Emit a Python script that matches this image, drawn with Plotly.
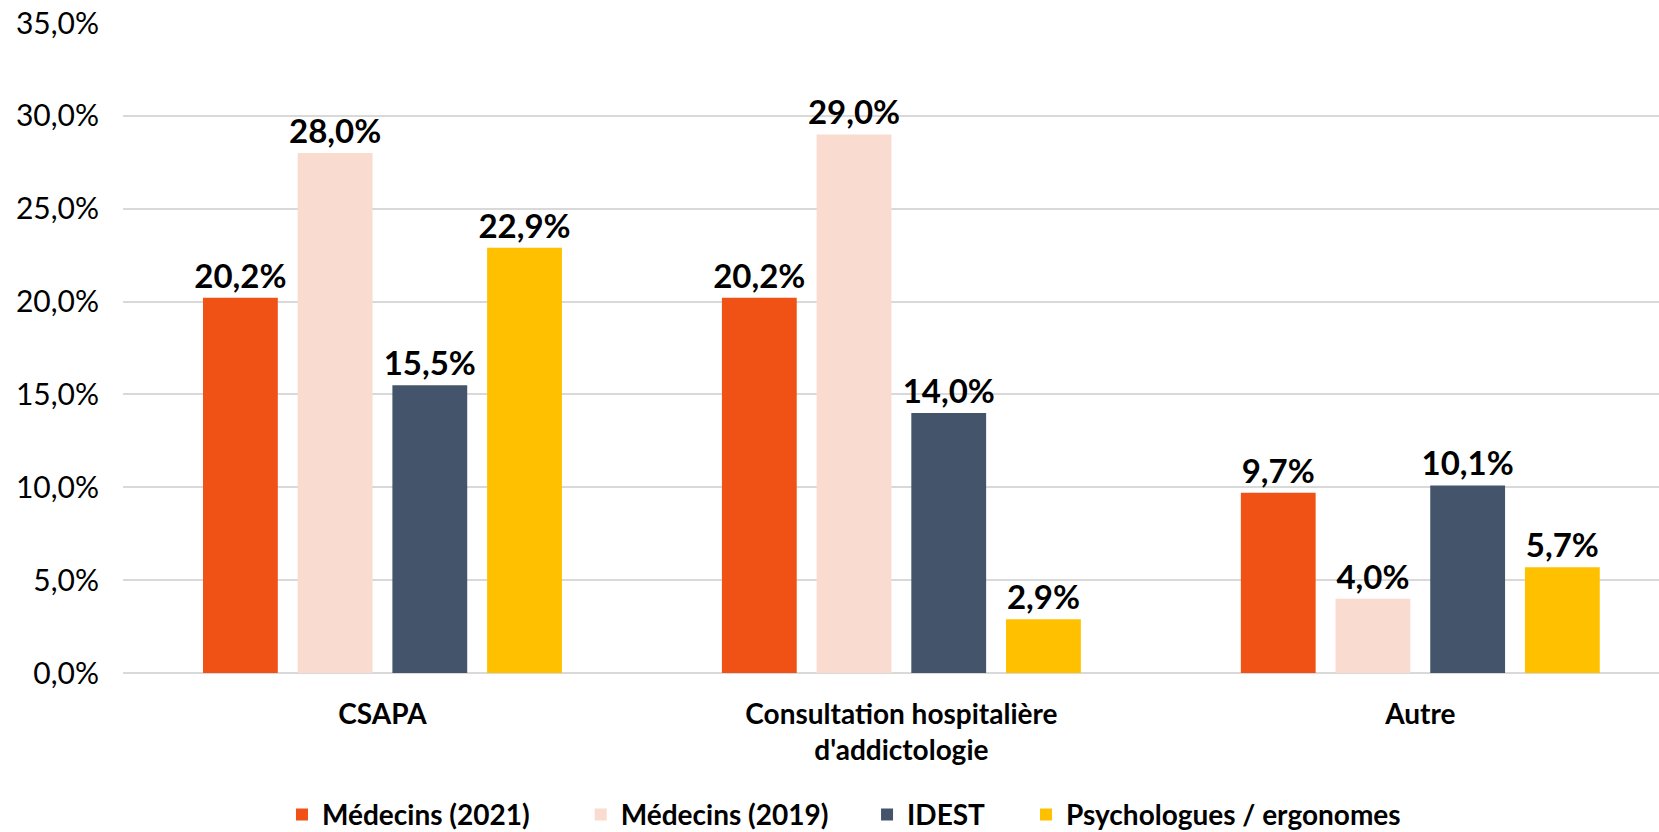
import plotly.graph_objects as go

categories = ["CSAPA", "Consultation hospitalière<br>d'addictologie", "Autre"]
series = ["Médecins (2021)", "Médecins (2019)", "IDEST", "Psychologues / ergonomes"]
medecins_2021 = [20.2, 20.2, 9.7]
medecins_2019 = [28.0, 29.0, 4.0]
idest = [15.5, 14.0, 10.1]
psychologues = [22.9, 2.9, 5.7]
colors = ["#F05215", "#FADBD0", "#44546A", "#FFC000"]

FONT = "Lato, 'Open Sans', sans-serif"

# one legend per entry so the entries can be spread like the original
legend_ids = ["legend", "legend2", "legend3", "legend4"]
legend_x = [0.1035, 0.298, 0.4844, 0.5879]

fig = go.Figure()
for name, vals, col, lg in zip(series, [medecins_2021, medecins_2019, idest, psychologues],
                               colors, legend_ids):
    fig.add_trace(go.Bar(
        x=categories, y=vals, name=name, marker_color=col, marker_line_width=0,
        texttemplate="%{y:.1f}%", textposition="outside", cliponaxis=False,
        constraintext="none", legend=lg,
        textfont=dict(family=FONT, size=33, color="black", weight="bold"),
    ))

legend_style = dict(orientation="h", xanchor="left", y=-0.218, yanchor="middle",
                    font=dict(family=FONT, size=28, weight="bold"),
                    bgcolor="rgba(0,0,0,0)")
fig.update_layout(
    width=1659, height=832,
    margin=dict(l=123, r=0, t=23, b=159, autoexpand=False),
    plot_bgcolor="white", paper_bgcolor="white",
    separators=", ",
    barmode="group", bargap=0.27, bargroupgap=0.21,
    font=dict(family=FONT, color="black"),
    showlegend=True,
    **{lg: dict(x=lx, **legend_style) for lg, lx in zip(legend_ids, legend_x)},
)
fig.update_yaxes(range=[0, 35], dtick=5, tickformat=".1f", ticksuffix="%",
                 showgrid=True, gridcolor="#D9D9D9", gridwidth=2,
                 zeroline=True, zerolinecolor="#D9D9D9", zerolinewidth=2,
                 showline=False, ticklabelstandoff=23, automargin=False,
                 tickfont=dict(family=FONT, size=30))
fig.update_xaxes(range=[-0.5, 2.46], showgrid=False, showline=False,
                 ticklabelstandoff=22, automargin=False,
                 tickfont=dict(family=FONT, size=28, weight="bold"))

# page body has a default 8px margin; drop it so the figure fills the window
fig.write_html("out.html", config={"displayModeBar": False},
               post_script="document.body.style.margin='0';")
